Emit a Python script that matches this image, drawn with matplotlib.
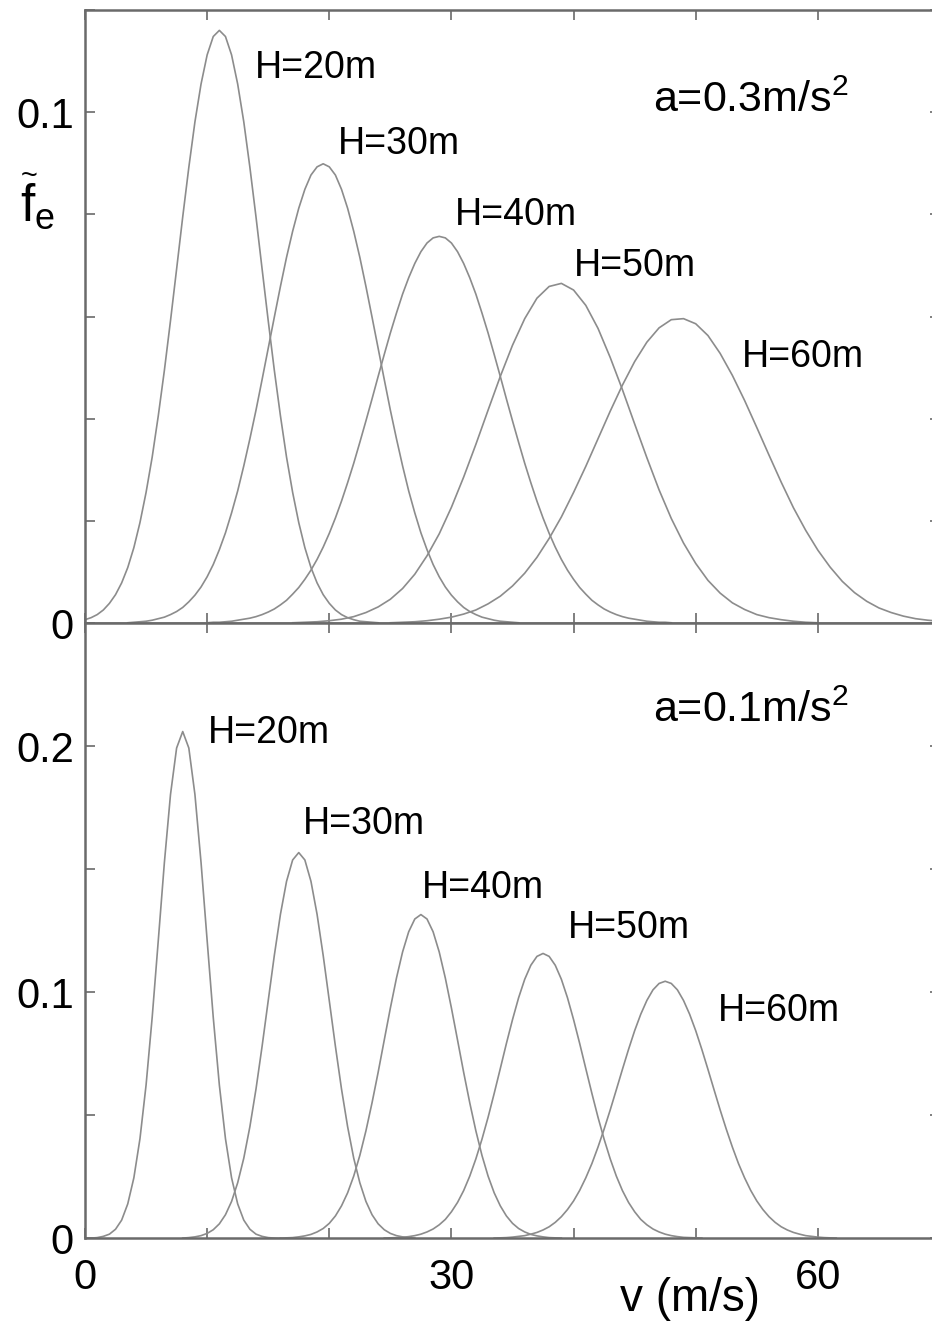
import numpy as np
import matplotlib
matplotlib.use('Agg')
import matplotlib.pyplot as plt

plt.rcParams['font.family'] = ['Liberation Sans', 'DejaVu Sans']
plt.rcParams['mathtext.fontset'] = 'custom'
plt.rcParams['mathtext.rm'] = 'Liberation Sans'
plt.rcParams['mathtext.it'] = 'Liberation Sans'

heights = ['H=20m', 'H=30m', 'H=40m', 'H=50m', 'H=60m']

# upper panel, a = 0.3 m/s^2: first v and sampling step of each curve
top_start = [0.0, 3.5, 10.0, 17.0, 25.0]
top_step = [0.5, 0.5, 0.5, 1.0, 1.0]
top_f = [
    [0.0007, 0.0011, 0.0017, 0.0026, 0.0039, 0.0056, 0.0079, 0.0109, 0.0148,
     0.0197, 0.0256, 0.0325, 0.0406, 0.0495, 0.0592, 0.0693, 0.0795, 0.0892,
     0.0981, 0.1055, 0.1112, 0.1148, 0.1160, 0.1148, 0.1112, 0.1055, 0.0981,
     0.0892, 0.0795, 0.0693, 0.0592, 0.0495, 0.0406, 0.0325, 0.0256, 0.0197,
     0.0148, 0.0109, 0.0079, 0.0056, 0.0039, 0.0026, 0.0017, 0.0011, 0.0007,
     0.0004, 0.0003, 0.0002, 0.0001],
    [0.0001, 0.0002, 0.0003, 0.0004, 0.0006, 0.0009, 0.0012, 0.0017, 0.0023,
     0.0031, 0.0042, 0.0055, 0.0071, 0.0091, 0.0115, 0.0144, 0.0177, 0.0216,
     0.0259, 0.0308, 0.0361, 0.0417, 0.0477, 0.0538, 0.0599, 0.0659, 0.0716,
     0.0767, 0.0812, 0.0849, 0.0877, 0.0893, 0.0899, 0.0893, 0.0877, 0.0849,
     0.0812, 0.0767, 0.0716, 0.0659, 0.0599, 0.0538, 0.0477, 0.0417, 0.0361,
     0.0308, 0.0259, 0.0216, 0.0177, 0.0144, 0.0115, 0.0091, 0.0071, 0.0055,
     0.0042, 0.0031, 0.0023, 0.0017, 0.0012, 0.0009, 0.0006, 0.0004, 0.0003,
     0.0002, 0.0001],
    [0.0001, 0.0002, 0.0002, 0.0003, 0.0004, 0.0006, 0.0008, 0.0010, 0.0013,
     0.0017, 0.0022, 0.0028, 0.0036, 0.0045, 0.0057, 0.0070, 0.0086, 0.0104,
     0.0125, 0.0149, 0.0176, 0.0206, 0.0239, 0.0275, 0.0313, 0.0354, 0.0396,
     0.0439, 0.0483, 0.0526, 0.0568, 0.0607, 0.0644, 0.0676, 0.0704, 0.0727,
     0.0744, 0.0754, 0.0757, 0.0754, 0.0744, 0.0727, 0.0704, 0.0676, 0.0644,
     0.0607, 0.0568, 0.0526, 0.0483, 0.0439, 0.0396, 0.0354, 0.0313, 0.0275,
     0.0239, 0.0206, 0.0176, 0.0149, 0.0125, 0.0104, 0.0086, 0.0070, 0.0057,
     0.0045, 0.0036, 0.0028, 0.0022, 0.0017, 0.0013, 0.0010, 0.0008, 0.0006,
     0.0004, 0.0003, 0.0002, 0.0002, 0.0001],
    [0.0001, 0.0002, 0.0003, 0.0005, 0.0008, 0.0013, 0.0021, 0.0032, 0.0047,
     0.0068, 0.0096, 0.0132, 0.0175, 0.0227, 0.0286, 0.0350, 0.0417, 0.0483,
     0.0544, 0.0596, 0.0636, 0.0659, 0.0665, 0.0652, 0.0622, 0.0577, 0.0520,
     0.0457, 0.0390, 0.0324, 0.0261, 0.0205, 0.0157, 0.0117, 0.0084, 0.0059,
     0.0040, 0.0027, 0.0017, 0.0011, 0.0007, 0.0004, 0.0002, 0.0001],
    [0.0001, 0.0002, 0.0003, 0.0005, 0.0008, 0.0012, 0.0018, 0.0026, 0.0038,
     0.0053, 0.0073, 0.0098, 0.0129, 0.0166, 0.0208, 0.0256, 0.0307, 0.0361,
     0.0415, 0.0466, 0.0512, 0.0550, 0.0578, 0.0594, 0.0596, 0.0586, 0.0563,
     0.0528, 0.0485, 0.0436, 0.0383, 0.0329, 0.0276, 0.0226, 0.0182, 0.0143,
     0.0110, 0.0082, 0.0060, 0.0043, 0.0030, 0.0021, 0.0014, 0.0009, 0.0006,
     0.0004],
]

# lower panel, a = 0.1 m/s^2
bot_start = [0.0, 8.0, 16.0, 24.5, 33.5]
bot_step = [0.5, 0.5, 0.5, 0.5, 0.5]
bot_f = [
    [0.0000, 0.0001, 0.0003, 0.0008, 0.0017, 0.0037, 0.0074, 0.0140, 0.0246,
     0.0405, 0.0623, 0.0898, 0.1211, 0.1528, 0.1804, 0.1993, 0.2060, 0.1993,
     0.1804, 0.1528, 0.1211, 0.0898, 0.0623, 0.0405, 0.0246, 0.0140, 0.0074,
     0.0037, 0.0017, 0.0008, 0.0003, 0.0001, 0.0000],
    [0.0001, 0.0003, 0.0006, 0.0011, 0.0020, 0.0035, 0.0059, 0.0096, 0.0150,
     0.0226, 0.0326, 0.0454, 0.0607, 0.0781, 0.0966, 0.1150, 0.1317, 0.1451,
     0.1538, 0.1568, 0.1538, 0.1451, 0.1317, 0.1150, 0.0966, 0.0781, 0.0607,
     0.0454, 0.0326, 0.0226, 0.0150, 0.0096, 0.0059, 0.0035, 0.0020, 0.0011,
     0.0006, 0.0003, 0.0001],
    [0.0001, 0.0002, 0.0003, 0.0006, 0.0010, 0.0016, 0.0026, 0.0040, 0.0061,
     0.0091, 0.0132, 0.0185, 0.0253, 0.0337, 0.0437, 0.0551, 0.0675, 0.0806,
     0.0936, 0.1058, 0.1164, 0.1246, 0.1298, 0.1316, 0.1298, 0.1246, 0.1164,
     0.1058, 0.0936, 0.0806, 0.0675, 0.0551, 0.0437, 0.0337, 0.0253, 0.0185,
     0.0132, 0.0091, 0.0061, 0.0040, 0.0026, 0.0016, 0.0010, 0.0006, 0.0003,
     0.0002, 0.0001],
    [0.0001, 0.0002, 0.0003, 0.0004, 0.0007, 0.0011, 0.0017, 0.0026, 0.0038,
     0.0055, 0.0077, 0.0108, 0.0146, 0.0194, 0.0253, 0.0323, 0.0403, 0.0492,
     0.0589, 0.0690, 0.0792, 0.0889, 0.0978, 0.1053, 0.1110, 0.1146, 0.1158,
     0.1146, 0.1110, 0.1053, 0.0978, 0.0889, 0.0792, 0.0690, 0.0589, 0.0492,
     0.0403, 0.0323, 0.0253, 0.0194, 0.0146, 0.0108, 0.0077, 0.0055, 0.0038,
     0.0026, 0.0017, 0.0011, 0.0007, 0.0004, 0.0003, 0.0002, 0.0001],
    [0.0001, 0.0002, 0.0003, 0.0005, 0.0008, 0.0011, 0.0017, 0.0024, 0.0034,
     0.0047, 0.0065, 0.0088, 0.0117, 0.0152, 0.0195, 0.0246, 0.0304, 0.0371,
     0.0444, 0.0522, 0.0604, 0.0687, 0.0768, 0.0844, 0.0911, 0.0967, 0.1010,
     0.1036, 0.1045, 0.1036, 0.1010, 0.0967, 0.0911, 0.0844, 0.0768, 0.0687,
     0.0604, 0.0522, 0.0444, 0.0371, 0.0304, 0.0246, 0.0195, 0.0152, 0.0117,
     0.0088, 0.0065, 0.0047, 0.0034, 0.0024, 0.0017, 0.0011, 0.0008, 0.0005,
     0.0003, 0.0002, 0.0001],
]

# label anchor points (v, f)
top_lab_v = [13.9, 20.7, 30.3, 40.0, 53.8]
top_lab_f = [0.1087, 0.0938, 0.0799, 0.0699, 0.0521]
bot_lab_v = [10.1, 17.8, 27.6, 39.5, 51.8]
bot_lab_f = [0.2053, 0.1683, 0.1426, 0.1263, 0.0925]

curve_col = '#8c8c8c'
axis_col = '#6a6a6a'


def style_axes(ax, ymax, ymajor, ylabels):
    ax.set_xlim(0, 70)
    ax.set_ylim(0, ymax)
    ax.set_xticks(np.arange(0, 71, 10))
    ax.set_yticks(ymajor)
    ax.set_yticklabels(ylabels)
    for s in ax.spines.values():
        s.set_color(axis_col)
        s.set_linewidth(1.8)
    ax.tick_params(direction='in', length=7, width=1.2, color=axis_col,
                   top=True, right=True, labelsize=30, pad=8)


def draw_panel(ax, starts, steps, curves, lab_v, lab_f):
    for st, dv, f in zip(starts, steps, curves):
        v = st + dv*np.arange(len(f))
        ax.plot(v, f, color=curve_col, lw=1.2)
    for x, y, t in zip(lab_v, lab_f, heights):
        ax.text(x, y, t, fontsize=27, va='center', ha='left')


fig = plt.figure(figsize=(9.32, 13.25), dpi=100)
ax1 = fig.add_axes([0.0912, 0.5296, 0.9174, 0.4629])
ax2 = fig.add_axes([0.0912, 0.0654, 0.9174, 0.4642])

draw_panel(ax1, top_start, top_step, top_f, top_lab_v, top_lab_f)
draw_panel(ax2, bot_start, bot_step, bot_f, bot_lab_v, bot_lab_f)

style_axes(ax1, 0.12, [0, 0.02, 0.04, 0.06, 0.08, 0.1, 0.12],
           ['0', '', '', '', '', '0.1', ''])
style_axes(ax2, 0.25, [0, 0.05, 0.1, 0.15, 0.2, 0.25],
           ['0', '', '0.1', '', '0.2', ''])
ax1.set_xticklabels([])
ax2.set_xticklabels(['0', '', '', '30', '', '', '60', ''])
ax2.tick_params(axis='x', pad=14)

ax1.text(46.5, 0.1001, r'a=0.3m/s$^{\mathrm{2}}$', fontsize=31, va='baseline')
ax2.text(46.5, 0.2098, r'a=0.1m/s$^{\mathrm{2}}$', fontsize=31, va='baseline')

# y label: f with a tilde over it and subscript e, as one text
fig.text(20/932, 1 - 222/1325, r'$\widetilde{\mathrm{f}}_{\mathrm{e}}$',
         fontsize=37, ha='left', va='baseline')

fig.text(690/932, 1 - 1299/1325, 'v (m/s)', fontsize=33, ha='center', va='center')

fig.savefig('out.png', dpi=100)
